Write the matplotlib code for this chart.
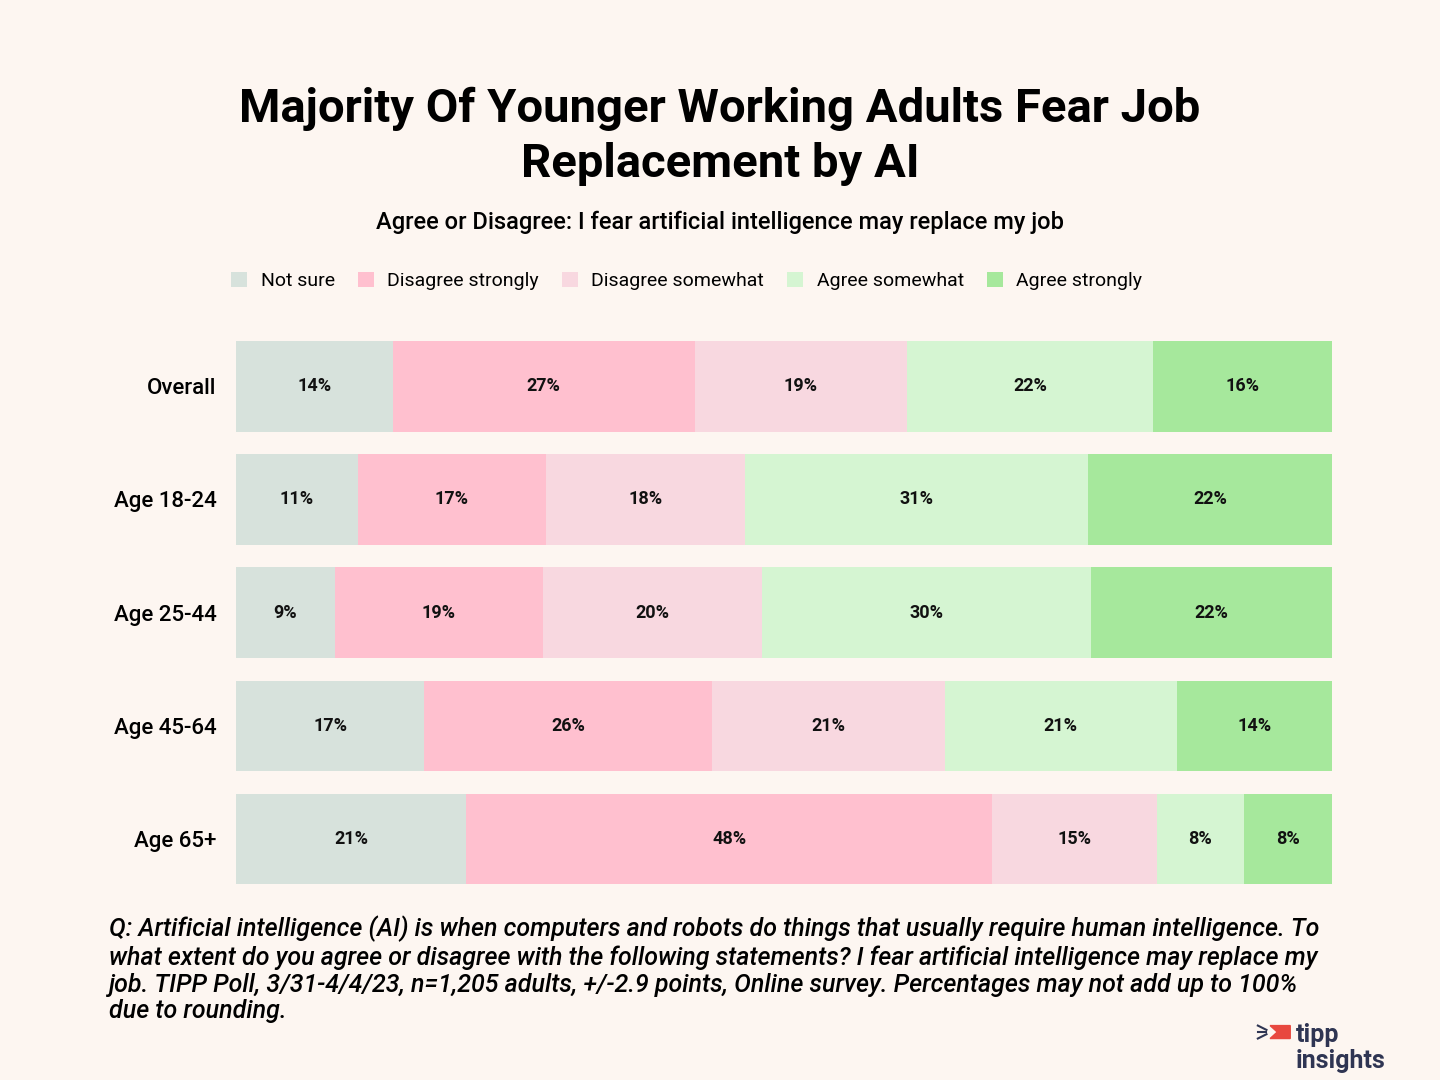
import matplotlib.pyplot as plt
import matplotlib.patches as mpatches
from matplotlib import font_manager
import numpy as np

# pick a narrow font if we have one
names = set(f.name for f in font_manager.fontManager.ttflist)
font = 'Liberation Sans Narrow' if 'Liberation Sans Narrow' in names else 'Roboto'
plt.rcParams['font.family'] = [font, 'DejaVu Sans']

groups = ['Overall', 'Age 18-24', 'Age 25-44', 'Age 45-64', 'Age 65+']
answers = ['Not sure', 'Disagree strongly', 'Disagree somewhat', 'Agree somewhat', 'Agree strongly']
not_sure = [14, 11, 9, 17, 21]
dis_strong = [27, 17, 19, 26, 48]
dis_some = [19, 18, 20, 21, 15]
agr_some = [22, 31, 30, 21, 8]
agr_strong = [16, 22, 22, 14, 8]
colors = ['#d7e2dc', '#ffc0cf', '#f8d8e0', '#d5f5d2', '#a6e89c']

bg = '#fdf6f1'
data = np.array([not_sure, dis_strong, dis_some, agr_some, agr_strong], dtype=float)
share = data / data.sum(axis=0)

fig = plt.figure(figsize=(14.4, 10.8), dpi=100, facecolor=bg)
ax = fig.add_axes([0.1639, 0.1707, 0.7611, 0.524])
ax.set_facecolor(bg)

y = np.arange(len(groups))
left = np.zeros(len(groups))
for i in range(len(answers)):
    ax.barh(y, share[i], left=left, height=0.8, color=colors[i], label=answers[i])
    for j in range(len(groups)):
        ax.text(left[j] + share[i, j] / 2, y[j], f'{int(data[i, j])}%',
                ha='center', va='center', fontsize=13, fontweight='bold', color='#111111')
    left += share[i]

ax.set_xlim(0, 1)
ax.set_ylim(len(groups) - 0.5, -0.5)
ax.set_yticks(y)
ax.set_yticklabels(groups, fontsize=16, fontweight='medium')
ax.tick_params(axis='y', length=0, pad=14)
ax.set_xticks([])
for s in ax.spines.values():
    s.set_visible(False)

fig.text(0.5, 0.874, 'Majority Of Younger Working Adults Fear Job\nReplacement by AI',
         ha='center', va='center', fontsize=34, fontweight='bold', linespacing=1.32)
fig.text(0.5, 0.794, 'Agree or Disagree: I fear artificial intelligence may replace my job',
         ha='center', va='center', fontsize=17, fontweight='medium')

fig.legend(*ax.get_legend_handles_labels(), loc='center', bbox_to_anchor=(0.477, 0.740),
           ncol=5, frameon=False, fontsize=14, handlelength=0.8, handleheight=0.8,
           columnspacing=1.2, handletextpad=0.7)

note = ('Q: Artificial intelligence (AI) is when computers and robots do things that usually require human intelligence. To\n'
        'what extent do you agree or disagree with the following statements? I fear artificial intelligence may replace my\n'
        'job. TIPP Poll, 3/31-4/4/23, n=1,205 adults, +/-2.9 points, Online survey. Percentages may not add up to 100%\n'
        'due to rounding.')
fig.text(0.0757, 0.152, note, ha='left', va='top', fontsize=18, style='italic',
         fontweight='medium', linespacing=1.15)

# logo
fig.text(0.9, 0.0352, 'tipp', ha='left', va='baseline', fontsize=18, fontweight='bold', color='#2f3553')
fig.text(0.9, 0.0111, 'insights', ha='left', va='baseline', fontsize=18, fontweight='bold', color='#2f3553')
fig.patches.append(mpatches.Polygon([[0.882, 0.0504], [0.896, 0.0504], [0.896, 0.0384], [0.882, 0.0384], [0.887, 0.0444]],
                                    closed=True, transform=fig.transFigure, color='#e8483f'))
for dy in (0.004, 0, -0.004):
    fig.lines.append(plt.Line2D([0.8735, 0.8795], [0.0444 + dy * 1.5, 0.0444 + dy * 0.5],
                                transform=fig.transFigure, color='#2f3553', lw=1.5))

fig.savefig('out.png', dpi=100, facecolor=bg)
